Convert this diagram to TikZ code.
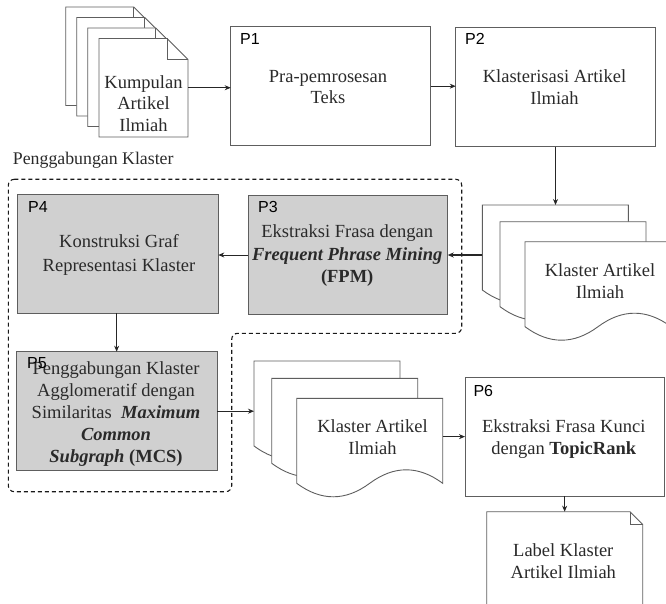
\documentclass[tikz,border=0pt]{standalone}
\usepackage{fontspec}
\setmainfont{Liberation Serif}
\newfontfamily\plabelfont{Liberation Sans}
\usetikzlibrary{arrows.meta}
\definecolor{boxline}{HTML}{5E5E5E}
\definecolor{boxfill}{HTML}{D0D0D0}
\definecolor{txt}{HTML}{2A2A2A}
\tikzset{
  procbox/.style={draw=boxline, line width=0.9pt, inner sep=0pt, outer sep=0pt},
  grayfill/.style={fill=boxfill},
  anchorbox/.style={inner sep=0pt, outer sep=0pt},
  pageline/.style={draw=boxline, line width=0.9pt, fill=white, line join=miter},
  maintext/.style={font=\fontsize{18.5}{21.7}\selectfont, align=center, text=txt, inner sep=0pt},
  plabel/.style={font=\plabelfont\fontsize{16}{16}\selectfont, anchor=west, inner sep=0pt, text=black},
  arr/.style={-{Stealth[length=6pt,width=5pt]}, line width=0.8pt, draw=black!85},
  groupline/.style={draw=black!90, line width=1.1pt, dash pattern=on 4pt off 3pt, rounded corners=6pt}
}
% note page: left, top, width, height, fold
\newcommand{\notepg}[5]{%
  \draw[pageline] (#1,#2) -- (#1+#3-#5,#2) -- (#1+#3,#2+#5) -- (#1+#3,#2+#4) -- (#1,#2+#4) -- cycle;
  \draw[draw=boxline, line width=0.9pt] (#1+#3-#5,#2) -- (#1+#3-#5,#2+#5) -- (#1+#3,#2+#5);
}
% wavy document page 146 x 100: left, top
\newcommand{\wavepg}[2]{%
  \draw[pageline] (#1,#2) -- (#1+146,#2) -- (#1+146,#2+85)
    .. controls (#1+121.67,#2+67) and (#1+97.33,#2+67) .. (#1+73,#2+85)
    .. controls (#1+48.67,#2+103) and (#1+24.33,#2+103) .. (#1,#2+85) -- cycle;
}
\begin{document}
\begin{tikzpicture}[x=1pt,y=-1pt]
\useasboundingbox (0,0) rectangle (666,604);
\clip (0,0) rectangle (666,604);

% ---- upper-left stack of articles
\notepg{65.7}{7}{89}{98.5}{21}
\notepg{76.7}{17.5}{89}{98.5}{21}
\notepg{87.7}{28}{89}{98.5}{21}
\notepg{99}{38.5}{89}{98.5}{21}
\node[anchorbox, minimum width=89pt, minimum height=98.5pt] (KA) at (143.5,87.75) {};
\node[maintext] (KAt) at (143.5,103.5) {Kumpulan\\Artikel\\Ilmiah};

% ---- P1, P2
\node[procbox, minimum width=200pt, minimum height=119pt] (P1) at (330.7,86.2) {};
\node[plabel] (P1l) at (240,39) {P1};
\node[maintext] (P1t) at (328,87) {Pra-pemrosesan\\Teks};

\node[procbox, minimum width=199.6pt, minimum height=119.4pt] (P2) at (555.5,87) {};
\node[plabel] (P2l) at (465,39) {P2};
\node[maintext] (P2t) at (554.5,87) {Klasterisasi Artikel\\Ilmiah};

% ---- upper-right wavy stack
\wavepg{482.3}{205}
\wavepg{500}{221.7}
\wavepg{525}{241.7}
\node[anchorbox, minimum width=146pt, minimum height=85pt] (KB1) at (555.3,247.5) {};
\node[anchorbox, minimum width=146pt, minimum height=85pt] (KB3) at (598,284.2) {};
\node[maintext] (KBt) at (600,281) {Klaster Artikel\\Ilmiah};

% ---- group label
\node[font=\fontsize{17.8}{20}\selectfont, text=txt, anchor=west, inner sep=0pt] (GL) at (12.7,160.7) {Penggabungan Klaster};

% ---- P4, P3
\node[procbox, grayfill, minimum width=200.6pt, minimum height=119pt] (P4) at (118,253.8) {};
\node[plabel] (P4l) at (28,206.7) {P4};
\node[maintext, font=\fontsize{18.5}{23.3}\selectfont] (P4t) at (119,255) {Konstruksi Graf\\Representasi Klaster};

\node[procbox, grayfill, minimum width=199.4pt, minimum height=118.6pt] (P3) at (348,255) {};
\node[plabel] (P3l) at (258,207) {P3};
\node[maintext, font=\fontsize{18.5}{22.5}\selectfont] (P3t) at (347.2,256) {Ekstraksi Frasa dengan\\\textbf{\textit{Frequent Phrase Mining}}\\\textbf{(FPM)}};

% ---- P5
\node[procbox, grayfill, minimum width=201.3pt, minimum height=119pt] (P5) at (116.65,411.2) {};
\node[maintext, font=\fontsize{18.5}{22}\selectfont] (P5t) at (116,414.5) {Penggabungan Klaster\\Agglomeratif dengan\\Similaritas\ \ \textbf{\textit{Maximum}}\\\textbf{\textit{Common}}\\\textbf{\textit{Subgraph}} \textbf{(MCS)}};
\node[plabel] (P5l) at (27,363.3) {P5};

% ---- lower wavy stack
\wavepg{254}{361}
\wavepg{271.7}{378.3}
\wavepg{296.7}{398.3}
\node[anchorbox, minimum width=146pt, minimum height=85pt] (KC1) at (327,403.5) {};
\node[anchorbox, minimum width=146pt, minimum height=85pt] (KC3) at (369.7,440.8) {};
\node[maintext] (KCt) at (372.5,437.5) {Klaster Artikel\\Ilmiah};

% ---- P6
\node[procbox, minimum width=199.3pt, minimum height=118.7pt] (P6) at (564.65,436.65) {};
\node[plabel] (P6l) at (473.3,390.7) {P6};
\node[maintext] (P6t) at (563.7,439.2) {Ekstraksi Frasa Kunci\\dengan \textbf{TopicRank}};

% ---- label document
\notepg{486.7}{511.7}{156}{110}{12.7}
\node[anchorbox, minimum width=156pt, minimum height=110pt] (KD) at (564.7,566.7) {};
\node[maintext] (KDt) at (563.3,561) {Label Klaster\\Artikel Ilmiah};

% ---- group boundary
\draw[groupline] (8.3,179.3) -- (461.7,179.3) -- (461.7,333.3) -- (231.7,333.3) -- (231.7,491.7) -- (8.3,491.7) -- cycle;

% ---- connectors
\draw[arr] (KA.east) -- (KA.east -| P1.west);
\draw[arr] (P1.east) -- (P1.east -| P2.west);
\draw[arr] (P2.south) -- (P2.south |- KB1.north);
\draw[arr, line width=1.2pt] (P3.east -| KB1.west) -- (P3.east);
\draw[arr] (P3.west) -- (P3.west -| P4.east);
\draw[arr] (P4.south -| P5.north) -- (P5.north);
\draw[arr, line width=1.2pt] (P5.east) -- (P5.east -| KC1.west);
\draw[arr, line width=1.2pt] (P6.west -| KC3.east) -- (P6.west);
\draw[arr] (P6.south) -- (P6.south |- KD.north);
\end{tikzpicture}
\end{document}
